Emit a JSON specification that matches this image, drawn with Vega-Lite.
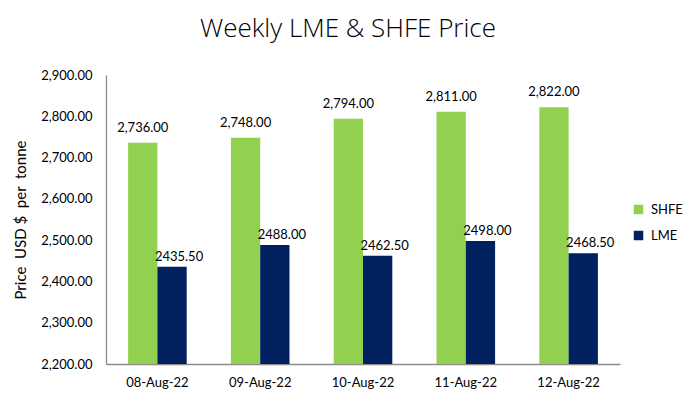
{
  "$schema": "https://vega.github.io/schema/vega-lite/v6.json",
  "width": 514,
  "height": 289,
  "autosize": {"type": "none"},
  "padding": {"left": 106, "top": 75, "right": 67, "bottom": 44},
  "background": "white",
  "title": {
    "text": "Weekly LME & SHFE Price",
    "font": "Open Sans",
    "fontSize": 26,
    "fontWeight": 300,
    "color": "#000000",
    "anchor": "middle",
    "dx": -15,
    "offset": 27
  },
  "config": {
    "view": {"stroke": null},
    "font": "Lato"
  },
  "data": {
    "values": [
      {"date": "08-Aug-22", "series": "SHFE", "price": 2736},
      {"date": "08-Aug-22", "series": "LME", "price": 2435.5},
      {"date": "09-Aug-22", "series": "SHFE", "price": 2748},
      {"date": "09-Aug-22", "series": "LME", "price": 2488},
      {"date": "10-Aug-22", "series": "SHFE", "price": 2794},
      {"date": "10-Aug-22", "series": "LME", "price": 2462.5},
      {"date": "11-Aug-22", "series": "SHFE", "price": 2811},
      {"date": "11-Aug-22", "series": "LME", "price": 2498},
      {"date": "12-Aug-22", "series": "SHFE", "price": 2822},
      {"date": "12-Aug-22", "series": "LME", "price": 2468.5}
    ]
  },
  "encoding": {
    "x": {
      "field": "date",
      "type": "nominal",
      "sort": null,
      "scale": {"paddingInner": 0.43, "paddingOuter": 0.215},
      "axis": {
        "title": null,
        "labelAngle": 0,
        "labelFont": "Lato",
        "labelFontSize": 13,
        "labelColor": "#000000",
        "labelPadding": 12,
        "ticks": false,
        "domainColor": "#8c8c8c",
        "domainWidth": 1.3
      }
    },
    "xOffset": {
      "field": "series",
      "type": "nominal",
      "sort": ["SHFE", "LME"],
      "scale": {"domain": ["SHFE", "LME"], "paddingInner": 0, "paddingOuter": 0}
    },
    "y": {
      "field": "price",
      "type": "quantitative",
      "scale": {"domain": [2200, 2900], "zero": false, "nice": false},
      "axis": {
        "title": "Price\u00a0\u00a0USD\u00a0$\u00a0\u00a0per\u00a0\u00a0tonne",
        "titleFont": "Lato",
        "titleFontSize": 15,
        "titleFontWeight": "normal",
        "titleColor": "#000000",
        "titlePadding": 12,
        "format": ",.2f",
        "values": [2200, 2300, 2400, 2500, 2600, 2700, 2800, 2900],
        "labelFont": "Lato",
        "labelFontSize": 13,
        "labelColor": "#000000",
        "labelPadding": 14,
        "ticks": false,
        "grid": false,
        "domainColor": "#8c8c8c",
        "domainWidth": 1.3
      }
    }
  },
  "layer": [
    {
      "mark": {"type": "bar"},
      "encoding": {
        "y2": {"datum": 2200},
        "color": {
          "field": "series",
          "type": "nominal",
          "sort": ["SHFE", "LME"],
          "scale": {"domain": ["SHFE", "LME"], "range": ["#92D050", "#002060"]},
          "legend": {
            "title": null,
            "orient": "none",
            "legendX": 526,
            "legendY": 128,
            "symbolType": "square",
            "symbolSize": 90,
            "symbolStrokeWidth": 0,
            "labelFont": "Lato",
            "labelFontSize": 13,
            "labelColor": "#000000",
            "rowPadding": 12,
            "labelOffset": 6
          }
        }
      }
    },
    {
      "transform": [{"filter": "datum.series === 'SHFE'"}],
      "mark": {"type": "text", "baseline": "bottom", "dy": -8, "font": "Lato", "fontSize": 13, "color": "#000000"},
      "encoding": {"text": {"field": "price", "type": "quantitative", "format": ",.2f"}}
    },
    {
      "transform": [{"filter": "datum.series === 'LME'"}],
      "mark": {"type": "text", "baseline": "bottom", "dy": -3, "dx": 7, "font": "Lato", "fontSize": 13, "color": "#000000"},
      "encoding": {"text": {"field": "price", "type": "quantitative", "format": ".2f"}}
    }
  ]
}
